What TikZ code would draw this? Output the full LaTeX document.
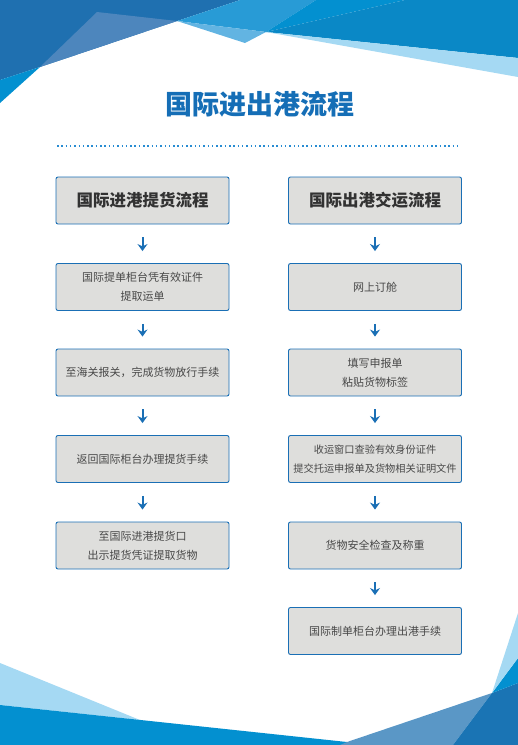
\documentclass[tikz,border=0pt]{standalone}
\usepackage{fontspec}
\newfontfamily\cjk{Noto Sans CJK SC}
\usepackage{tikz}
\usetikzlibrary{arrows.meta}
\definecolor{boxblue}{RGB}{26,111,181}
\definecolor{boxfill}{RGB}{222,222,220}
\definecolor{titleblue}{RGB}{21,110,182}
\definecolor{textgrey}{RGB}{72,72,72}
\definecolor{headgrey}{RGB}{50,50,50}
\definecolor{dotblue}{RGB}{40,140,210}
\definecolor{darkblue}{RGB}{31,112,176}
\definecolor{steelblue}{RGB}{77,134,189}
\definecolor{brightblue}{RGB}{3,144,208}
\definecolor{midblue}{RGB}{40,155,214}
\definecolor{lightmid}{RGB}{98,180,226}
\definecolor{deepblue}{RGB}{10,136,198}
\definecolor{paleblue}{RGB}{165,217,243}
\definecolor{lowsteel}{RGB}{90,151,198}
\definecolor{lowdark}{RGB}{26,116,180}

\begin{document}
\begin{tikzpicture}[
  x=1pt, y=-1pt,
  stepbox/.style={draw=boxblue, line width=0.9pt, fill=boxfill, rounded corners=2pt,
                  minimum width=173pt, minimum height=47pt, inner sep=0pt, align=center,
                  text=textgrey, font=\cjk\fontsize{11}{19}\selectfont},
  headbox/.style={stepbox, font=\cjk\bfseries\fontsize{16.5}{20}\selectfont, text=headgrey},
  arrow/.style={-{Stealth[length=7pt,width=10pt]}, line width=2pt, color=boxblue,
                shorten <=13pt, shorten >=12pt}
]
\useasboundingbox (0,0) rectangle (518,745);
% top corner
\fill[darkblue]   (0,0) -- (240,0) -- (177,21) -- (40,67) -- (0,80) -- cycle;
\fill[steelblue]  (97,12) -- (177,21) -- (40,67) -- cycle;
\fill[brightblue] (0,80) -- (40,67) -- (0,103) -- cycle;
\fill[midblue]    (240,0) -- (316,0) -- (266,32) -- (177,21) -- cycle;
\fill[lightmid]   (177,21) -- (266,32) -- (245,43) -- cycle;
\fill[brightblue] (316,0) -- (405,0) -- (266,32) -- cycle;
\fill[deepblue]   (405,0) -- (518,0) -- (518,58) -- (266,32) -- cycle;
\fill[paleblue]   (266,32) -- (518,58) -- (518,77) -- cycle;
% bottom corner
\fill[paleblue]   (0,663) -- (140,720) -- (0,705) -- cycle;
\fill[brightblue] (0,705) -- (347,742) -- (347,745) -- (0,745) -- cycle;
\fill[lowsteel]   (347,742) -- (492,693) -- (453,745) -- (340,745) -- cycle;
\fill[lowdark]    (492,693) -- (518,683) -- (518,745) -- (453,745) -- cycle;
\fill[brightblue] (492,693) -- (518,658) -- (518,683) -- cycle;
\fill[paleblue]   (492,693) -- (518,613) -- (518,658) -- cycle;

\node[font=\cjk\bfseries\fontsize{27}{30}\selectfont, text=titleblue] (title) at (260,104) {国际进出港流程};
\draw[dotblue, line width=1.3pt, dash pattern=on 1.5pt off 2.8pt] (57,146) -- (461,146);

% import column
\node[headbox] (in0) at (142.5,200.5) {国际进港提货流程};
\node[stepbox] (in1) at (142.5,287)   {国际提单柜台凭有效证件\\提取运单};
\node[stepbox] (in2) at (142.5,372.5) {至海关报关，完成货物放行手续};
\node[stepbox] (in3) at (142.5,459)   {返回国际柜台办理提货手续};
\node[stepbox] (in4) at (142.5,545.5) {至国际进港提货口\\出示提货凭证提取货物};
% export column
\node[headbox] (out0) at (375,200.5) {国际出港交运流程};
\node[stepbox] (out1) at (375,287)   {网上订舱};
\node[stepbox] (out2) at (375,372.5) {填写申报单\\粘贴货物标签};
\node[stepbox, font=\cjk\fontsize{10.2}{19}\selectfont] (out3) at (375,459)
  {收运窗口查验有效身份证件\\提交托运申报单及货物相关证明文件};
\node[stepbox] (out4) at (375,545.5) {货物安全检查及称重};
\node[stepbox] (out5) at (375,631)   {国际制单柜台办理出港手续};

\draw[arrow] (in0) -- (in1);
\draw[arrow] (in1) -- (in2);
\draw[arrow] (in2) -- (in3);
\draw[arrow] (in3) -- (in4);
\draw[arrow] (out0) -- (out1);
\draw[arrow] (out1) -- (out2);
\draw[arrow] (out2) -- (out3);
\draw[arrow] (out3) -- (out4);
\draw[arrow] (out4) -- (out5);
\end{tikzpicture}
\end{document}
